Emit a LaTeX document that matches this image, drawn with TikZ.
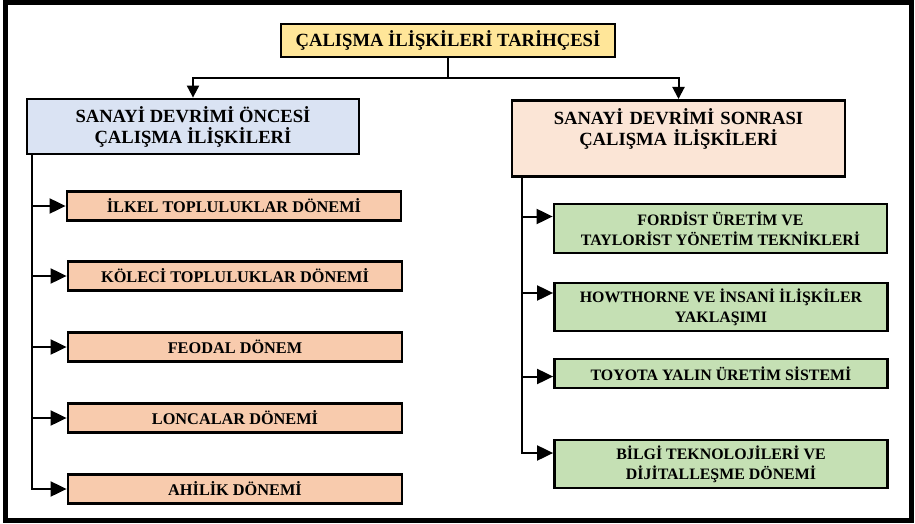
\documentclass[tikz,border=0pt]{standalone}
\usepackage{fontspec}
\setmainfont{Liberation Serif}
\definecolor{titleyellow}{HTML}{FFE699}
\definecolor{preblue}{HTML}{DAE3F3}
\definecolor{postpink}{HTML}{FBE5D6}
\definecolor{eraorange}{HTML}{F8CBAD}
\definecolor{modgreen}{HTML}{C5E0B4}
\usetikzlibrary{arrows.meta}

\begin{document}
\begin{tikzpicture}[x=1pt, y=-1pt,
  box/.style={draw=black, line width=2.8pt, align=center, inner sep=0pt},
  head/.style={box, font=\fontsize{18.6}{21}\selectfont\bfseries},
  era/.style={box, fill=eraorange, minimum width=334pt, minimum height=29pt, font=\fontsize{16.3}{20}\selectfont\bfseries},
  modern/.style={box, fill=modgreen, minimum width=333pt, font=\fontsize{15.9}{20}\selectfont\bfseries},
  link/.style={line width=2pt},
  arr/.style={link, -{Triangle[length=16pt,width=15pt]}},
  toparr/.style={link, -{Triangle[length=12pt,width=12pt]}}]
  \fill[white] (0,0) rectangle (915,524);
  \useasboundingbox (0,0) rectangle (915,524);
  % Frame
  \draw[line width=5pt] (5,3) rectangle (911.5,520);

  % Title and the two main periods
  \node[head, fill=titleyellow, minimum width=334pt, minimum height=33pt] (title) at (448,40.5) {ÇALIŞMA İLİŞKİLERİ TARİHÇESİ};
  \node[head, fill=preblue, minimum width=332pt, minimum height=55pt] (pre) at (193,126.5) {SANAYİ DEVRİMİ ÖNCESİ\\ÇALIŞMA İLİŞKİLERİ};
  \node[head, fill=postpink, text width=333pt, text height=24pt, text depth=52pt, anchor=north] (post) at (678.5,99) {SANAYİ DEVRİMİ SONRASI\\ÇALIŞMA İLİŞKİLERİ};

  % Before the industrial revolution
  \node[era] (ilkel) at (234,206) {İLKEL TOPLULUKLAR DÖNEMİ};
  \node[era] (koleci) at (235,276) {KÖLECİ TOPLULUKLAR DÖNEMİ};
  \node[era] (feodal) at (235,347) {FEODAL DÖNEM};
  \node[era] (lonca) at (235,418) {LONCALAR DÖNEMİ};
  \node[era] (ahilik) at (235,489) {AHİLİK DÖNEMİ};

  % After the industrial revolution
  \node[modern, minimum height=49pt] (fordist) at (720.5,228.5) {FORDİST ÜRETİM VE\\TAYLORİST YÖNETİM TEKNİKLERİ};
  \node[modern, minimum height=48pt] (howthorne) at (721,307) {HOWTHORNE VE İNSANİ İLİŞKİLER\\YAKLAŞIMI};
  \node[modern, minimum height=29pt] (toyota) at (721,373.5) {TOYOTA YALIN ÜRETİM SİSTEMİ};
  \node[modern, minimum height=48pt] (bilgi) at (721,464) {BİLGİ TEKNOLOJİLERİ VE\\DİJİTALLEŞME DÖNEMİ};

  % Connectors
  \coordinate (split) at ([yshift=-20pt]title.south);
  \draw[link] (title.south) -- (split);
  \draw[toparr] (split) -| (pre.north);
  \draw[toparr] (split) -| (post.north);
  \coordinate (ltrunk) at ([xshift=6pt]pre.south west);
  \coordinate (rtrunk) at ([xshift=11pt]post.south west);
  \foreach \n in {ilkel,koleci,feodal,lonca,ahilik}
    \draw[arr] (ltrunk) |- (\n.west);
  \foreach \n/\s in {fordist/12,howthorne/14,toyota/-3,bilgi/11}
    \draw[arr] (rtrunk) |- ([yshift=\s pt]\n.west);
\end{tikzpicture}
\end{document}
